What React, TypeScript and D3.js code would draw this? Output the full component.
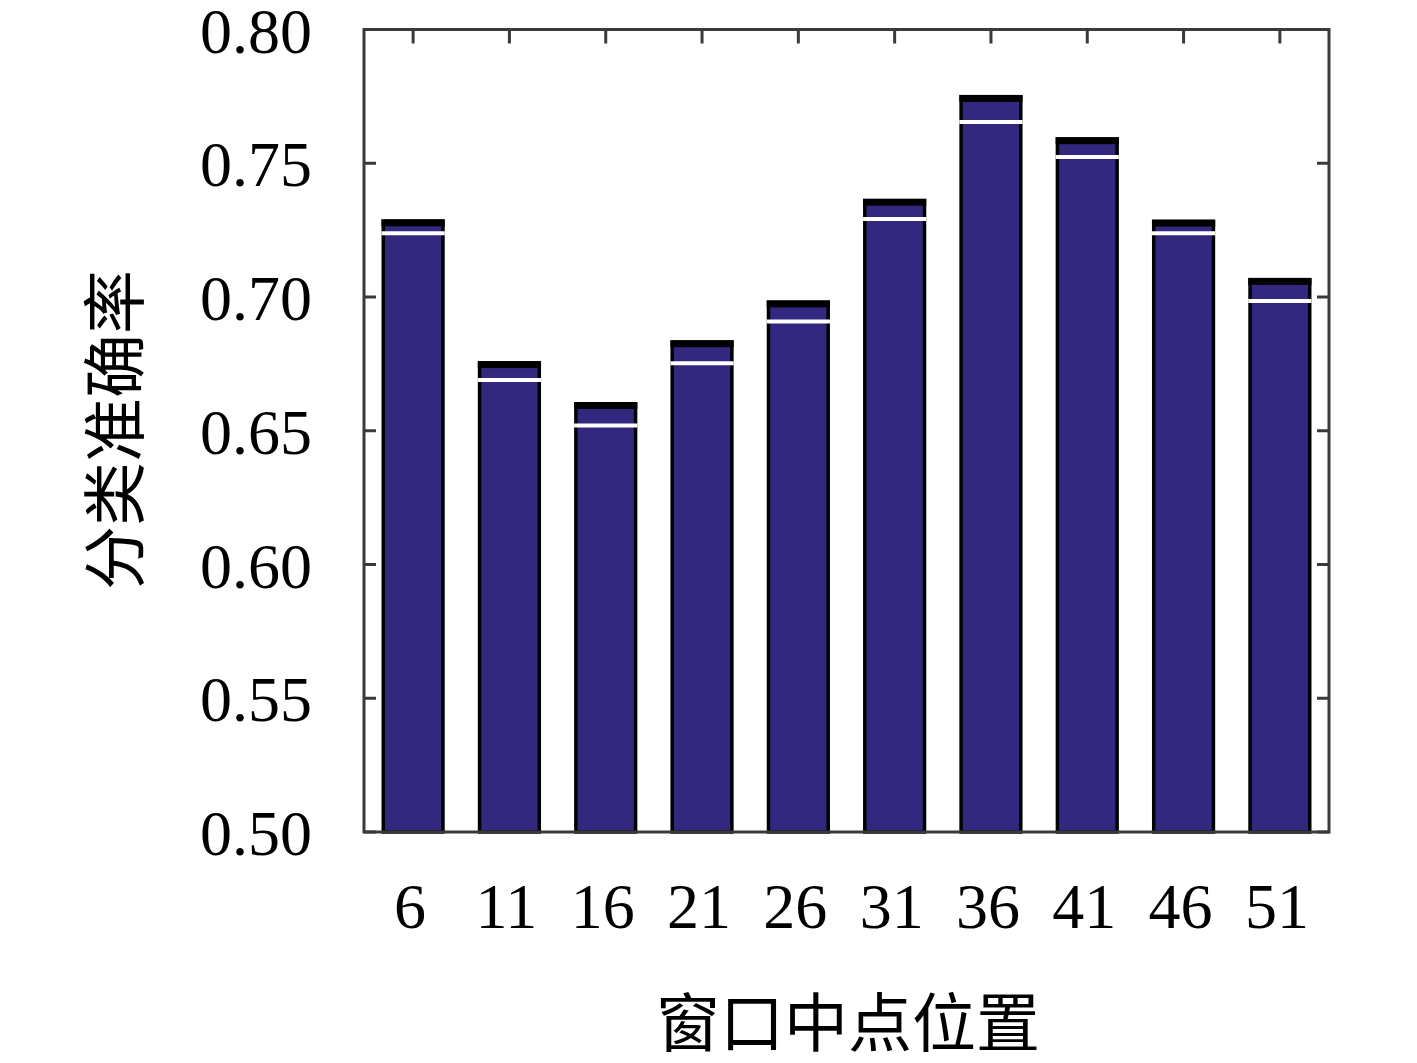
import React from "react";
import * as d3 from "d3";

const categories = ["6", "11", "16", "21", "26", "31", "36", "41", "46", "51"];
const topValues = [0.7283, 0.6753, 0.660, 0.6831, 0.698, 0.736, 0.7748, 0.759, 0.7282, 0.7064];
const lineValues = [0.7238, 0.669, 0.652, 0.6752, 0.6908, 0.7292, 0.7654, 0.7523, 0.7238, 0.6985];
const yTicks = [0.5, 0.55, 0.6, 0.65, 0.7, 0.75, 0.8];

const W = 1417;
const H = 1063;
const left = 364;
const right = 1329;
const top = 29.5;
const bottom = 832;

export default function App() {
  const x = d3.scaleBand<string>().domain(categories).range([left, right]).paddingInner(0.38).paddingOuter(0.2);
  const y = d3.scaleLinear().domain([0.5, 0.8]).range([bottom, top]);
  const bw = x.bandwidth();
  const barFill = "#33287f";
  const frame = "#3a3a3a";
  const serif = "'Liberation Serif', 'DejaVu Serif', serif";
  const cjk = "'Noto Sans CJK SC', 'Noto Sans CJK JP', sans-serif";
  return (
    <svg width={W} height={H} style={{ position: "absolute", left: 0, top: 0, background: "#fff" }}>
      <rect x={0} y={0} width={W} height={H} fill="#fff" />
      {yTicks.map((t) => (
        <g key={"yt" + t}>
          <line x1={left} x2={left + 12} y1={y(t)} y2={y(t)} stroke={frame} strokeWidth={3} />
          <line x1={right - 12} x2={right} y1={y(t)} y2={y(t)} stroke={frame} strokeWidth={3} />
          <text x={312} y={y(t)} dy="0.36em" textAnchor="end" fontFamily={serif} fontSize={64} fill="#000">
            {t.toFixed(2)}
          </text>
        </g>
      ))}
      {categories.map((c) => {
        const cx = (x(c) as number) + bw / 2;
        return (
          <g key={"xt" + c}>
            <line x1={cx} x2={cx} y1={top} y2={top + 14} stroke={frame} strokeWidth={3} />
            <text x={cx - 3} y={928} textAnchor="middle" fontFamily={serif} fontSize={64} fill="#000">
              {c}
            </text>
          </g>
        );
      })}
      {categories.map((c, i) => {
        const x0 = x(c) as number;
        const yt = y(topValues[i]);
        const yl = y(lineValues[i]);
        return (
          <g key={"b" + c}>
            <rect x={x0} y={yt} width={bw} height={bottom - yt} fill={barFill} stroke="#000" strokeWidth={3.5} />
            <rect x={x0 - 1.75} y={yt - 2} width={bw + 3.5} height={7} fill="#000" />
            <line x1={x0 - 1.75} x2={x0 + bw + 1.75} y1={yl} y2={yl} stroke="#fff" strokeWidth={4} />
          </g>
        );
      })}
      <rect x={left} y={top} width={right - left} height={bottom - top} fill="none" stroke={frame} strokeWidth={3} />
      <text
        transform={`translate(115,430) rotate(-90)`}
        textAnchor="middle"
        dy="0.36em"
        fontFamily={cjk}
        fontSize={64}
        fill="#000"
      >
        分类准确率
      </text>
      <text x={848} y={1046} textAnchor="middle" fontFamily={cjk} fontSize={64} fill="#000">
        窗口中点位置
      </text>
    </svg>
  );
}
